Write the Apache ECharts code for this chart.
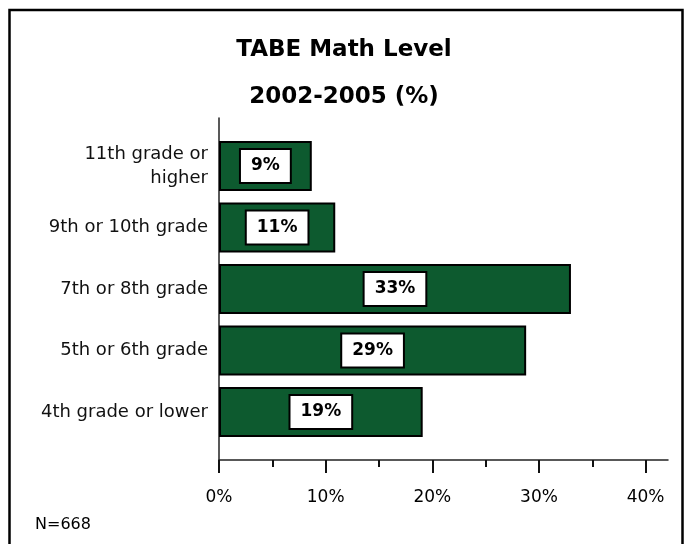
<!DOCTYPE html>
<html>
<head>
<meta charset="utf-8">
<script src="https://cdn.jsdelivr.net/npm/echarts@6/dist/echarts.min.js"></script>
<style>
html, body { margin: 0; padding: 0; background: #fff; }
#main { width: 688px; height: 544px; }
</style>
</head>
<body>
<div id="main"></div>
<script>
// data, bottom to top
var categories = ['4th grade or lower', '5th or 6th grade', '7th or 8th grade', '9th or 10th grade', '11th grade or\nhigher'];
var values = [19.1, 28.8, 33.0, 10.9, 8.7];
var tickValues = [0, 5, 10, 15, 20, 25, 30, 35, 40];
var labelValues = [0, 10, 20, 30, 40];
var titleText = 'TABE Math Level\n2002-2005 (%)';
var noteText = 'N=668';

var font = 'DejaVu Sans';
var myChart = echarts.init(document.getElementById('main'));

var option = {
    animation: false,
    textStyle: { fontFamily: font },
    title: {
        text: titleText,
        left: 'center',
        top: 22,
        textStyle: { fontFamily: font, fontSize: 23, fontWeight: 'bold', color: '#000', lineHeight: 47 }
    },
    graphic: [
        {
            type: 'rect',
            z: -1,
            shape: { x: 9.5, y: 10, width: 673, height: 560 },
            style: { fill: 'none', stroke: '#000', lineWidth: 2.5 }
        },
        {
            type: 'text',
            left: 35,
            top: 517,
            style: { text: noteText, fontFamily: font, fontSize: 16, fill: '#000' }
        }
    ],
    grid: [
        // bars
        { left: 219, right: 20, top: 135.3, bottom: 101.2 },
        // axis frame
        { left: 219, right: 20, top: 118, bottom: 84 }
    ],
    xAxis: [
        { gridIndex: 0, type: 'value', min: 0, max: 42.1, show: false },
        {
            gridIndex: 1, type: 'value', min: 0, max: 42.1, position: 'bottom',
            axisLine: { show: true, onZero: false, lineStyle: { color: '#222', width: 1.5 } },
            axisTick: { show: true, inside: false, customValues: tickValues, length: 7, lineStyle: { color: '#111', width: 2 } },
            axisLabel: { customValues: labelValues, formatter: '{value}%', margin: 29, fontSize: 17, color: '#000', fontFamily: font },
            splitLine: { show: false }
        },
        {
            gridIndex: 1, type: 'value', min: 0, max: 42.1, position: 'bottom',
            axisLine: { show: false, onZero: false },
            axisTick: { show: true, inside: false, customValues: labelValues, length: 13, lineStyle: { color: '#111', width: 2 } },
            axisLabel: { show: false },
            splitLine: { show: false }
        }
    ],
    yAxis: [
        {
            gridIndex: 0, type: 'category', data: categories,
            axisLine: { show: false },
            axisTick: { show: false },
            axisLabel: { margin: 11, fontSize: 18, lineHeight: 24, color: '#111', fontFamily: font }
        },
        {
            gridIndex: 1, type: 'value', min: 0, max: 1, position: 'left',
            axisLine: { show: true, onZero: false, lineStyle: { color: '#222', width: 1.5 } },
            axisTick: { show: false },
            axisLabel: { show: false },
            splitLine: { show: false }
        }
    ],
    series: [
        {
            type: 'bar',
            xAxisIndex: 0,
            yAxisIndex: 0,
            data: values,
            barWidth: 50,
            itemStyle: { color: '#0d5a2f', borderColor: '#000', borderWidth: 2 },
            label: {
                show: true,
                position: 'inside',
                formatter: function (p) { return Math.round(p.value) + '%'; },
                backgroundColor: '#fff',
                borderColor: '#000',
                borderWidth: 2,
                padding: [8, 10, 7, 10],
                fontFamily: font,
                fontWeight: 'bold',
                fontSize: 17,
                color: '#000'
            }
        }
    ]
};

myChart.setOption(option);
window.addEventListener('resize', function () {
    myChart.resize();
});
</script>
</body>
</html>
